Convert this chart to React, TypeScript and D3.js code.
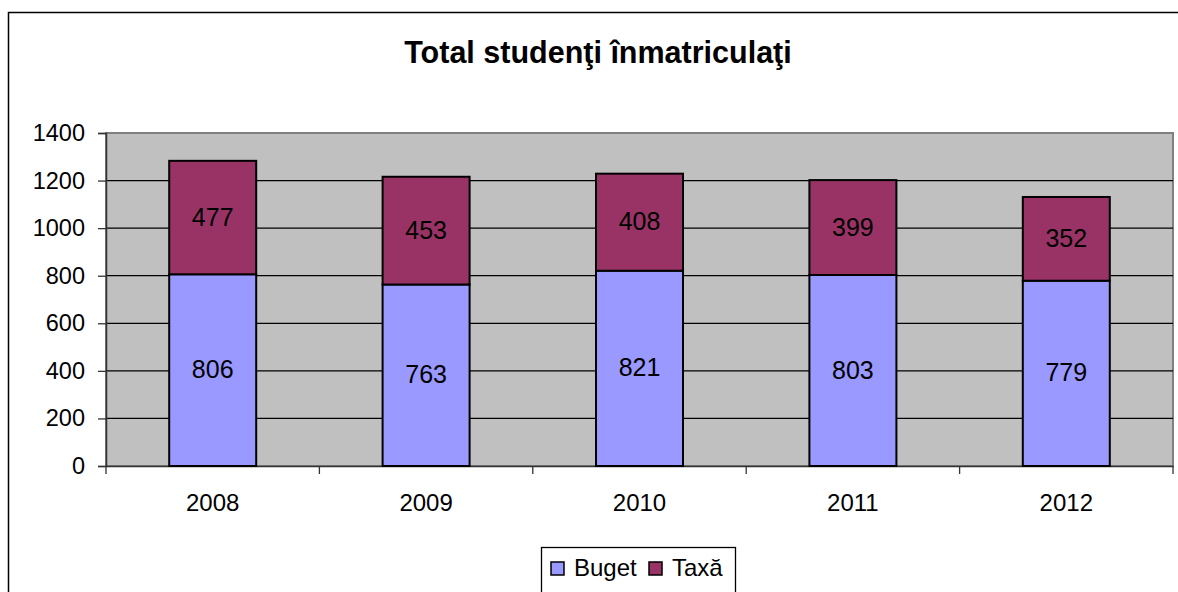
import { useEffect, useRef } from "react";
import * as d3 from "d3";

const years = ["2008", "2009", "2010", "2011", "2012"];
const buget = [806, 763, 821, 803, 779];
const taxa = [477, 453, 408, 399, 352];
const yTicks = [0, 200, 400, 600, 800, 1000, 1200, 1400];
const seriesNames = ["Buget", "Taxă"];
const seriesColors = ["#9999FF", "#993366"];

const W = 1178;
const H = 592;
const FONT = "'Liberation Sans', Arial, sans-serif";

export default function App() {
  const svgRef = useRef<SVGSVGElement>(null);

  useEffect(() => {
    if (!svgRef.current) return;
    const svg = d3.select(svgRef.current);
    svg.selectAll("*").remove();

    const plot = { left: 106, right: 1173, top: 133, bottom: 466 };

    // outer chart border (right/bottom run off the picture)
    svg.append("rect")
      .attr("x", 8.5).attr("y", 12.5)
      .attr("width", W + 20).attr("height", H + 20)
      .attr("fill", "white").attr("stroke", "black").attr("stroke-width", 1.5);

    svg.append("text")
      .attr("x", 598).attr("y", 63)
      .attr("text-anchor", "middle")
      .attr("font-family", FONT).attr("font-weight", "bold").attr("font-size", 30.5)
      .text("Total studenţi înmatriculaţi");

    const x = d3.scaleBand().domain(years).range([plot.left, plot.right]).paddingInner(0).paddingOuter(0);
    const y = d3.scaleLinear().domain([0, 1400]).range([plot.bottom, plot.top]);

    // plot area
    svg.append("rect")
      .attr("x", plot.left).attr("y", plot.top)
      .attr("width", plot.right - plot.left).attr("height", plot.bottom - plot.top)
      .attr("fill", "#C0C0C0").attr("stroke", "#808080").attr("stroke-width", 2);

    // gridlines
    svg.selectAll(".grid")
      .data(yTicks.filter(t => t > 0 && t < 1400))
      .enter().append("line")
      .attr("x1", plot.left).attr("x2", plot.right)
      .attr("y1", d => y(d)).attr("y2", d => y(d))
      .attr("stroke", "black").attr("stroke-width", 1.3);

    // y axis
    const yAxis = svg.append("g").attr("transform", `translate(${plot.left},0)`)
      .call(d3.axisLeft(y).tickValues(yTicks).tickSize(8).tickPadding(13).tickFormat(d3.format("d")));
    yAxis.select(".domain").attr("stroke", "#333").attr("stroke-width", 1.5);
    yAxis.selectAll(".tick line").attr("stroke", "#333").attr("stroke-width", 1.3);
    yAxis.selectAll("text").attr("font-family", FONT).attr("font-size", 23.5).attr("fill", "black");

    // x axis
    const xAxis = svg.append("g").attr("transform", `translate(0,${plot.bottom})`)
      .call(d3.axisBottom(x).tickSize(0).tickPadding(28));
    xAxis.select(".domain").attr("stroke", "#333").attr("stroke-width", 1.5);
    xAxis.selectAll("text").attr("font-family", FONT).attr("font-size", 24).attr("fill", "black");
    svg.selectAll(".xtick")
      .data(d3.range(years.length + 1))
      .enter().append("line")
      .attr("x1", i => plot.left + i * x.step()).attr("x2", i => plot.left + i * x.step())
      .attr("y1", plot.bottom).attr("y2", plot.bottom + 8)
      .attr("stroke", "#333").attr("stroke-width", 1.3);

    // stacked bars
    const rows = years.map((yr, i) => ({ year: yr, Buget: buget[i], Taxă: taxa[i] }));
    const stack = d3.stack<any>().keys(seriesNames)(rows);
    const barW = 87;
    stack.forEach((layer, si) => {
      const g = svg.append("g");
      g.selectAll("rect")
        .data(layer)
        .enter().append("rect")
        .attr("x", d => x(d.data.year)! + x.bandwidth() / 2 - barW / 2)
        .attr("width", barW)
        .attr("y", d => y(d[1]))
        .attr("height", d => y(d[0]) - y(d[1]))
        .attr("fill", seriesColors[si])
        .attr("stroke", "black").attr("stroke-width", 2);
      g.selectAll("text")
        .data(layer)
        .enter().append("text")
        .attr("x", d => x(d.data.year)! + x.bandwidth() / 2)
        .attr("y", d => (y(d[0]) + y(d[1])) / 2 + 8)
        .attr("text-anchor", "middle")
        .attr("font-family", FONT).attr("font-size", 25)
        .text(d => String(d[1] - d[0]));
    });

    // legend
    const lg = svg.append("g");
    lg.append("rect")
      .attr("x", 541.5).attr("y", 547.5).attr("width", 194).attr("height", 60)
      .attr("fill", "white").attr("stroke", "black").attr("stroke-width", 1.3);
    const items = [
      { name: seriesNames[0], x: 551 },
      { name: seriesNames[1], x: 649 },
    ];
    items.forEach((it, i) => {
      lg.append("rect")
        .attr("x", it.x).attr("y", 562).attr("width", 13).attr("height", 13)
        .attr("fill", seriesColors[i]).attr("stroke", "black").attr("stroke-width", 1.5);
      lg.append("text")
        .attr("x", it.x + 23).attr("y", 576)
        .attr("font-family", FONT).attr("font-size", 24)
        .text(it.name);
    });
  }, []);

  return (
    <svg ref={svgRef} width={W} height={H}
      style={{ position: "absolute", left: 0, top: 0, background: "white" }} />
  );
}
